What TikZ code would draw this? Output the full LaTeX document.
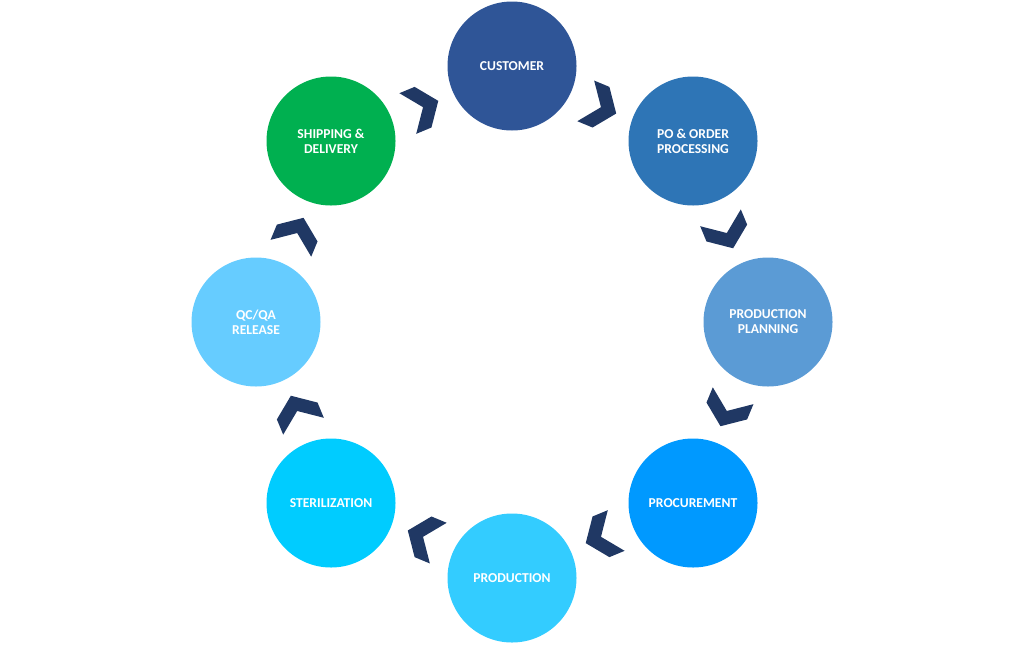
\documentclass[tikz,border=0pt]{standalone}
\usepackage{fontspec}
\setmainfont{Carlito}
\usetikzlibrary{calc}
\definecolor{cCust}{RGB}{47,85,151}
\definecolor{cPO}{RGB}{46,117,182}
\definecolor{cPlan}{RGB}{91,155,213}
\definecolor{cProc}{RGB}{0,153,255}
\definecolor{cProd}{RGB}{51,204,255}
\definecolor{cSter}{RGB}{0,204,255}
\definecolor{cQC}{RGB}{102,204,255}
\definecolor{cShip}{RGB}{0,176,80}
\definecolor{cChev}{RGB}{32,56,100}
\tikzset{
  stage/.style={circle, draw=none, minimum size=129pt, inner sep=0pt, text=white,
    font=\bfseries\fontsize{13.6}{15}\selectfont, align=center},
  chev/.pic={\fill[cChev] (-16.5,-22) -- (0,-22) -- (16.5,0) -- (0,22) -- (-16.5,22) -- (0,0) -- cycle;}
}
\begin{document}
\begin{tikzpicture}[x=1pt,y=-1pt]
\useasboundingbox (0,0) rectangle (1024,646);
\coordinate (ctr) at (512,322);
\node[stage, fill=cCust] (cust) at (512,66) {CUSTOMER};
\node[stage, fill=cPO] (po) at (693,141) {PO \& ORDER\\PROCESSING};
\node[stage, fill=cPlan] (plan) at (768,322) {PRODUCTION\\PLANNING};
\node[stage, fill=cProc] (proc) at (693,503) {PROCUREMENT};
\node[stage, fill=cProd] (prod) at (512,578) {PRODUCTION};
\node[stage, fill=cSter] (ster) at (331,503) {STERILIZATION};
\node[stage, fill=cQC] (qc) at (256,322) {QC/QA\\RELEASE};
\node[stage, fill=cShip] (ship) at (331,141) {SHIPPING \&\\DELIVERY};
\foreach \a/\b in {cust/po, po/plan, plan/proc, proc/prod, prod/ster, ster/qc, qc/ship, ship/cust}{
  \path let \p1=($(\b)-(\a)$), \n1={atan2(\y1,\x1)} in
    pic[rotate=\n1] at ($($(\a)!0.5!(\b)$)!4pt!(ctr)$) {chev};
}
\end{tikzpicture}
\end{document}
